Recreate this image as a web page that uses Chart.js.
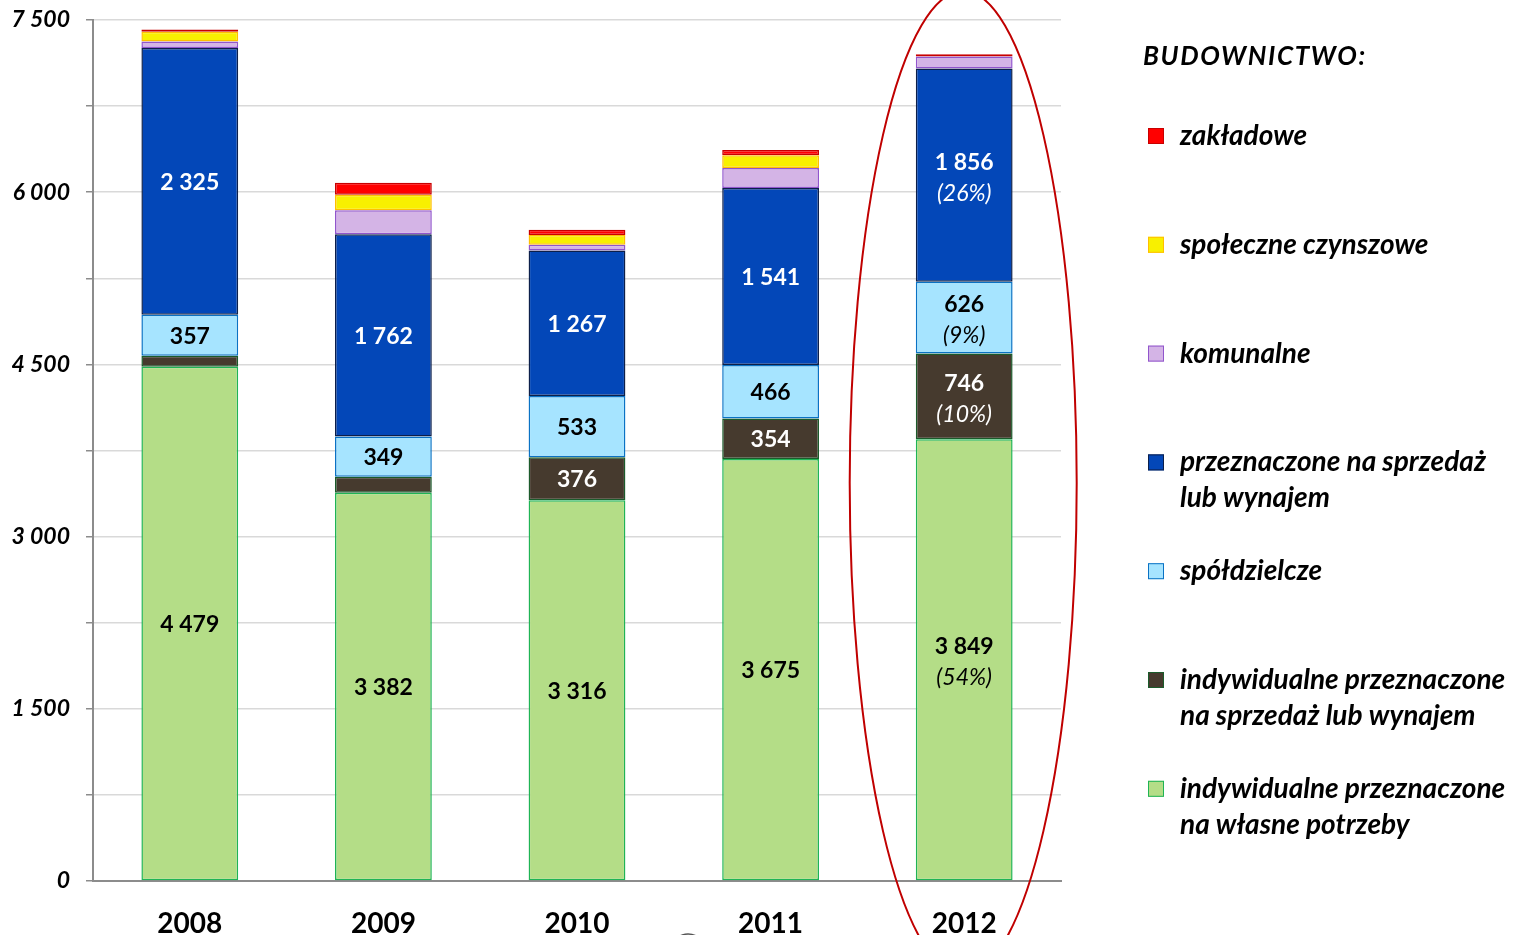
<!DOCTYPE html>
<html>
<head>
<meta charset="utf-8">
<script src="https://cdn.jsdelivr.net/npm/chart.js@4.4.1/dist/chart.umd.min.js"></script>
<style>
    html, body { margin: 0; padding: 0; background: #fff; }
    #wrap { width: 1519px; height: 935px; position: relative; }
</style>
</head>
<body>
<div id="wrap"><canvas id="bar-chart" width="1519" height="935"></canvas></div>
<script>
// categories and series
var years = ["2008", "2009", "2010", "2011", "2012"];
var wlasne = [4479, 3382, 3316, 3675, 3849];
var indywSprzedaz = [96, 140, 376, 354, 746];
var spoldzielcze = [357, 349, 533, 466, 626];
var sprzedaz = [2325, 1762, 1267, 1541, 1856];
var komunalne = [55, 210, 50, 175, 105];
var spoleczne = [85, 135, 85, 110, 0];
var zakladowe = [20, 105, 45, 47, 20];
// shares printed for 2012 (bottom to top)
var shares2012 = ["(54%)", "(10%)", "(9%)", "(26%)"];
var yTicks = [0, 1500, 3000, 4500, 6000, 7500];

var FONT = "Lato, 'Open Sans', sans-serif";

function fmt(v) {
    return String(v).replace(/\B(?=(\d{3})+(?!\d))/g, " ");
}

var barData = {
    labels: years,
    datasets: [
        { label: ["indywidualne przeznaczone", "na własne potrzeby"], data: wlasne,
          backgroundColor: "#b4dd87", borderColor: "#1fb455", textColor: "#000", showValues: true },
        { label: ["indywidualne przeznaczone", "na sprzedaż lub wynajem"], data: indywSprzedaz,
          backgroundColor: "#463a2e", borderColor: "#1b5b2b", textColor: "#fff", showValues: true },
        { label: ["spółdzielcze"], data: spoldzielcze,
          backgroundColor: "#a6e4ff", borderColor: "#0a72c4", textColor: "#000", showValues: true },
        { label: ["przeznaczone na sprzedaż", "lub wynajem"], data: sprzedaz,
          backgroundColor: "#0347b8", borderColor: "#0c1f4a", textColor: "#fff", showValues: true },
        { label: ["komunalne"], data: komunalne,
          backgroundColor: "#d4b4e6", borderColor: "#9155cc", showValues: false },
        { label: ["społeczne czynszowe"], data: spoleczne,
          backgroundColor: "#f8f000", borderColor: "#ffbf00", showValues: false },
        { label: ["zakładowe"], data: zakladowe,
          backgroundColor: "#ff0000", borderColor: "#c80000", showValues: false }
    ]
};

barData.datasets.forEach(function (ds) {
    ds.borderWidth = 1.5;
    ds.borderSkipped = false;
    ds.barPercentage = 1;
    ds.categoryPercentage = 0.5;
});

// values written inside the bars
var valueLabels = {
    id: 'valueLabels',
    afterDatasetsDraw: function (chart) {
        var ctx = chart.ctx;
        ctx.save();
        ctx.textAlign = 'center';
        ctx.textBaseline = 'middle';
        chart.data.datasets.forEach(function (ds, di) {
            if (!ds.showValues) return;
            chart.getDatasetMeta(di).data.forEach(function (bar, i) {
                var v = ds.data[i];
                if (v < 300) return;
                var cy = (bar.y + bar.base) / 2;
                ctx.fillStyle = ds.textColor;
                if (i === years.length - 1) {
                    ctx.font = "bold 23px " + FONT;
                    ctx.fillText(fmt(v), bar.x, cy - 13);
                    ctx.font = "italic 23px " + FONT;
                    ctx.fillText(shares2012[di], bar.x, cy + 18);
                } else {
                    ctx.font = "bold 23px " + FONT;
                    ctx.fillText(fmt(v), bar.x, cy + 1);
                }
            });
        });
        ctx.restore();
    }
};

// legend on the right, top to bottom = stack top to bottom
var sideLegend = {
    id: 'sideLegend',
    afterDraw: function (chart) {
        var ctx = chart.ctx;
        ctx.save();
        ctx.textBaseline = 'middle';
        ctx.textAlign = 'left';
        ctx.fillStyle = '#000';
        ctx.font = "italic bold 26px " + FONT;
        ctx.letterSpacing = "1.6px";
        ctx.fillText("BUDOWNICTWO:", 1143, 57);
        ctx.letterSpacing = "0px";
        var list = chart.data.datasets.slice().reverse();
        list.forEach(function (ds, k) {
            var y = 136 + k * 108.8;
            ctx.fillStyle = ds.backgroundColor;
            ctx.fillRect(1148, y - 8, 16, 16);
            ctx.strokeStyle = ds.borderColor;
            ctx.lineWidth = 1;
            ctx.strokeRect(1148.5, y - 7.5, 15, 15);
            ctx.fillStyle = '#000';
            ctx.font = "italic bold 28px " + FONT;
            ds.label.forEach(function (line, j) {
                ctx.fillText(line, 1180, y + j * 36);
            });
        });
        ctx.restore();
    }
};

// red ellipse round 2012 and the cut-off mark at the bottom
var marks = {
    id: 'marks',
    afterDraw: function (chart) {
        var ctx = chart.ctx;
        var x = chart.scales.x.getPixelForValue(years.length - 1);
        ctx.save();
        ctx.strokeStyle = '#c00000';
        ctx.lineWidth = 2;
        ctx.beginPath();
        ctx.ellipse(x - 1, 483, 113.5, 492, 0, 0, Math.PI * 2);
        ctx.stroke();
        ctx.strokeStyle = '#555';
        ctx.lineWidth = 1.5;
        ctx.beginPath();
        ctx.arc(688, 952, 18, Math.PI * 1.15, Math.PI * 1.85);
        ctx.stroke();
        ctx.restore();
    }
};

function draw() {
    new Chart(document.getElementById('bar-chart'), {
        type: 'bar',
        data: barData,
        plugins: [valueLabels, sideLegend, marks],
        options: {
            responsive: false,
            animation: false,
            layout: { padding: { top: 20, right: 458, bottom: 0, left: 0 } },
            plugins: {
                legend: { display: false },
                tooltip: { enabled: false }
            },
            scales: {
                x: {
                    stacked: true,
                    afterFit: function (scale) { scale.height = 54; },
                    grid: { display: false, drawTicks: false },
                    border: { display: true, color: '#8c8c8c', width: 2 },
                    ticks: {
                        color: '#000',
                        padding: 26,
                        font: { family: FONT, size: 28, weight: 'bold' }
                    }
                },
                y: {
                    stacked: true,
                    min: 0,
                    max: 7500,
                    afterFit: function (scale) {
                        scale.width = 93;
                        scale.paddingTop = 0;
                        scale.paddingBottom = 0;
                    },
                    grid: { color: '#d9d9d9', lineWidth: 1.5, tickColor: '#8c8c8c', tickLength: 7 },
                    border: { display: true, color: '#8c8c8c', width: 2 },
                    ticks: {
                        stepSize: 750,
                        color: '#000',
                        padding: 16,
                        font: { family: FONT, size: 23, weight: 'bold', style: 'italic' },
                        callback: function (v) {
                            return yTicks.indexOf(v) >= 0 ? fmt(v) : '';
                        }
                    }
                }
            }
        }
    });
}

draw();
</script>
</body>
</html>
